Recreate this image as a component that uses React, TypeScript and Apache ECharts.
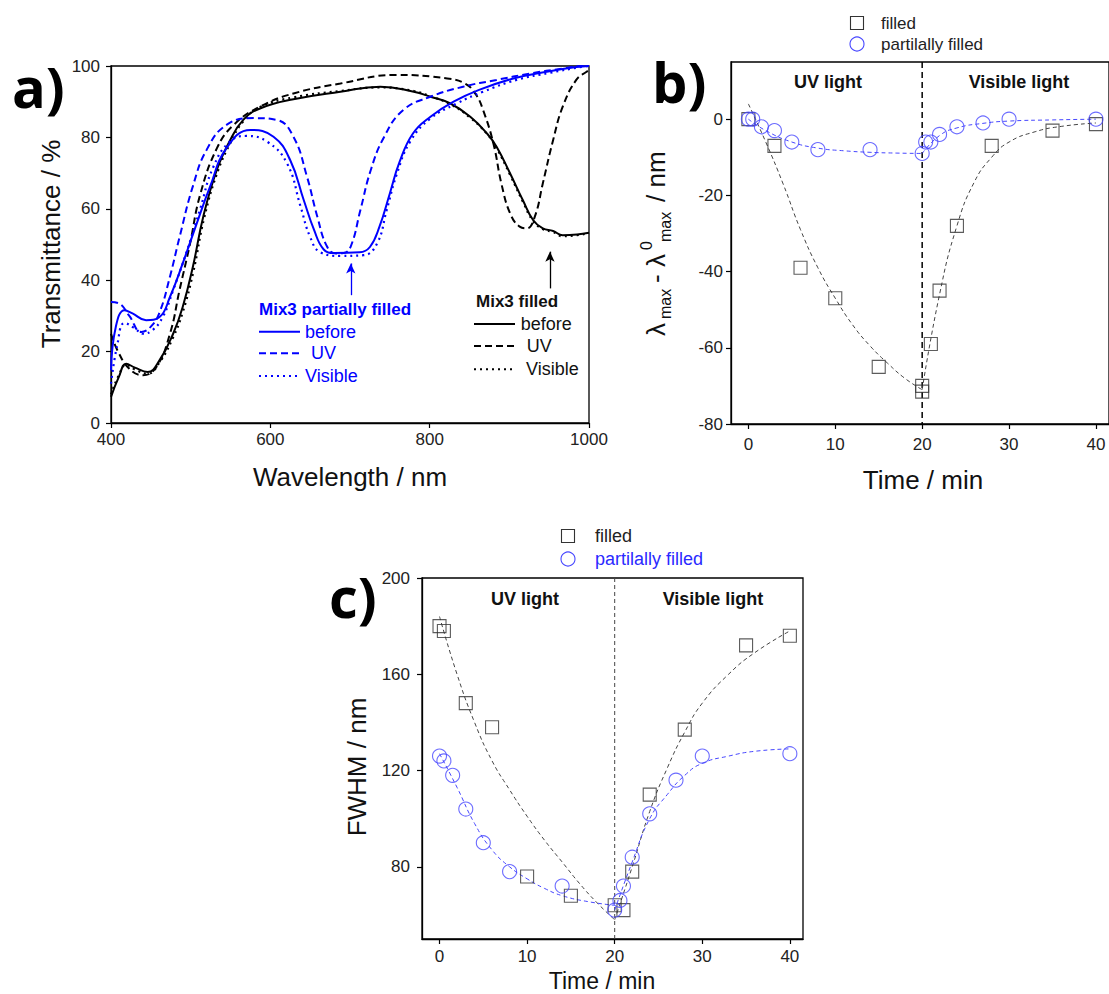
import React, { useEffect, useRef } from "react";
import * as echarts from "echarts";

// ---------- Panel a: transmittance spectra (wavelength nm, T %) ----------
const aFilledBefore: number[][] = [
  [400, 7.3], [410, 13], [419, 16.6], [430, 15.5], [446, 14.3], [461, 17.6], [478, 25], [490, 32.5],
  [503, 44], [516, 58], [533, 71], [549, 79], [566, 84.9], [587, 88.1], [629, 90.7], [688, 92.8],
  [738, 94.2], [780, 92.8], [801, 91.4], [826, 89.5], [851, 85.8], [872, 81.1], [884, 77.4], [901, 69.9],
  [917, 62.4], [930, 56.8], [942, 54.5], [955, 53.8], [967, 52.6], [985, 52.8], [1000, 53.3],
];
const aFilledUV: number[][] = [
  [400, 25], [408, 20.4], [423, 15.2], [440, 13.4], [457, 15.7], [474, 25], [486, 37.2], [499, 50],
  [512, 64], [533, 77], [554, 83.5], [587, 88.6], [629, 92.3], [688, 95.1], [758, 97.5], [822, 96.5],
  [845, 95], [858, 92], [867, 87.7], [880, 78.3], [890, 67.1], [901, 58.7], [913, 55], [922, 54.5], [932, 57.8],
  [942, 67.1], [955, 79.3], [967, 88.6], [984, 96.1], [997, 98.4], [1000, 98.8],
];
const aFilledVisible: number[][] = [
  [400, 8], [410, 13.5], [419, 16.3], [430, 15], [446, 13.8], [461, 17], [478, 24], [490, 31],
  [503, 42], [517, 57.5], [534, 70.5], [550, 78.5], [566, 84.5], [587, 88.5], [629, 91.2], [688, 93],
  [738, 94], [780, 93], [801, 91.5], [826, 89.3], [851, 85.5], [872, 81], [884, 77], [901, 69.5],
  [917, 62], [930, 56.5], [942, 54.3], [955, 53.5], [967, 52.3], [985, 52.6], [1000, 53.2],
];
const aPartialBefore: number[][] = [
  [400, 14.8], [406, 26.9], [417, 31.6], [427, 30.7], [444, 28.8], [461, 29.7], [474, 35.3], [490, 44.7],
  [507, 55.5], [524, 66], [545, 77], [575, 82.1], [604, 80.2], [625, 73.6], [642, 62.4], [655, 54],
  [667, 48.6], [680, 47.6], [712, 47.8], [725, 49.3], [737, 55], [750, 64.3], [762, 73], [779, 81.1],
  [801, 85.8], [830, 90], [862, 93.3], [905, 96.5], [947, 98.4], [984, 99.7], [1000, 100],
];
const aPartialUV: number[][] = [
  [400, 33.9], [410, 33.5], [423, 30], [438, 25.5], [450, 27], [461, 31], [474, 41], [486, 52],
  [503, 66.5], [520, 76.5], [545, 83.5], [579, 85.4], [608, 84.9], [629, 80.2], [646, 69], [659, 57.8],
  [671, 49.5], [682, 47.5], [692, 47.6], [701, 49.5], [713, 59.6], [726, 70.8], [743, 80.2], [767, 87.7],
  [801, 91.4], [842, 94.2], [884, 96.1], [926, 97.9], [967, 99.3], [992, 100], [1000, 100],
];
const aPartialVisible: number[][] = [
  [400, 11], [408, 22], [417, 28], [430, 26.5], [440, 25], [452, 26], [465, 29.7], [478, 37.2],
  [495, 48], [512, 60], [528, 71.5], [549, 78.8], [570, 80.4], [596, 78.8], [621, 72.7], [638, 60.6],
  [650, 52.1], [663, 47.8], [688, 46.8], [717, 47], [734, 50.3], [746, 59.6], [759, 69.9], [776, 79],
  [801, 85.3], [834, 89.5], [867, 92.8], [909, 96.1], [951, 98.1], [992, 99.8], [1000, 100],
];
// annotation arrows [x, yFrom, yTo]
const arrowPartial = [701, 35.8, 44.7];
const arrowFilled = [951, 37.7, 48];

// ---------- Panel b: lambda shift vs time ----------
const bFilledTime = [0, 3, 6, 10, 15, 20, 20, 21, 22, 24, 28, 35, 40];
const bFilledShift = [0, -7, -39, -47, -65, -70, -71.5, -59, -45, -28, -7, -3, -1.3];
const bPartialTime = [0, 0.5, 1.5, 3, 5, 8, 14, 20, 20.4, 21, 22, 24, 27, 30, 40];
const bPartialShift = [0, 0, -2, -3, -6, -8, -8, -9, -6, -6, -4, -2, -1, 0, 0];
const bFitFilledUVTime = [0, 2, 4, 6, 8, 10, 12, 14, 16, 18, 20];
const bFitFilledUV = [4, -6, -17, -29, -39, -47, -54, -59.5, -64, -68, -71];
const bFitFilledVisTime = [20, 22, 24, 26, 28, 30, 33, 36, 40];
const bFitFilledVis = [-71, -46, -28, -16.5, -10, -6, -3.3, -1.9, -1];
const bFitPartialUVTime = [0, 2, 5, 8, 11, 14, 17, 20];
const bFitPartialUV = [0, -3, -6, -7.6, -8.3, -8.7, -8.9, -9];
const bFitPartialVisTime = [20, 22, 24, 27, 30, 35, 40];
const bFitPartialVis = [-9, -4.3, -2.3, -1.1, -0.5, -0.2, 0];

// ---------- Panel c: FWHM vs time ----------
const cFilledTime = [0, 0.5, 3, 6, 10, 15, 20, 21, 22, 24, 28, 35, 40];
const cFilledFwhm = [180, 178, 148, 138, 76, 68, 64, 62, 78, 110, 137, 172, 176];
const cPartialTime = [0, 0.5, 1.5, 3, 5, 8, 14, 20, 20.6, 21, 22, 24, 27, 30, 40];
const cPartialFwhm = [126, 124, 118, 104, 90, 78, 72, 62, 66, 72, 84, 102, 116, 126, 127];
const cFitFilledUVTime = [0, 2, 4, 6, 8, 10, 12, 14, 16, 18, 20];
const cFitFilledUV = [184, 160, 140, 124, 112, 101, 91, 82, 73, 65, 58];
const cFitFilledVisTime = [20, 22, 24, 26, 28, 30, 33, 36, 40];
const cFitFilledVis = [58, 80, 103, 121, 136, 148, 160, 169, 178];
const cFitPartialUVTime = [0, 2, 4, 6, 8, 10, 12, 14, 17, 20];
const cFitPartialUV = [127, 113, 98, 87, 80, 75, 71, 68, 65.5, 64];
const cFitPartialVisTime = [20, 22, 24, 26, 28, 30, 33, 36, 40];
const cFitPartialVis = [62, 82, 100, 110, 118, 123, 126, 128, 129];

// tick values
const aXTicks = [400, 600, 800, 1000];
const aYTicks = [0, 20, 40, 60, 80, 100];
const timeTicks = [0, 10, 20, 30, 40];
const bYTicks = [-80, -60, -40, -20, 0];
const cYTicks = [80, 120, 160, 200];

const zip = (xs: number[], ys: number[]) => xs.map((x, i) => [x, ys[i]]);

const FONT = "'Liberation Sans', Arial, sans-serif";
const BLUE = "#0000ff";
const MBLUE = "#4646ff";

function axisCommon(custom: number[], margin: number) {
  return {
    axisLine: { show: true, onZero: false, lineStyle: { color: "#000", width: 1.3 } },
    axisTick: { show: true, inside: false, length: 5, customValues: custom, lineStyle: { color: "#000", width: 1.2 } },
    axisLabel: {
      customValues: custom, margin, fontSize: 17, color: "#222", fontFamily: FONT,
      formatter: (v: number) => String(v),
    },
    splitLine: { show: false },
  };
}

function spec(name: string, data: number[][], color: string, type: any, width = 2) {
  return {
    name, type: "line", xAxisIndex: 0, yAxisIndex: 0, data, showSymbol: false, symbol: "none",
    smooth: 0.45,
    lineStyle: { color, width, type, cap: "butt" }, silent: true,
  };
}

function fit(idx: number, data: number[][], color: string) {
  return {
    type: "line", xAxisIndex: idx, yAxisIndex: idx, data, showSymbol: false, symbol: "none",
    smooth: 0.5, silent: true,
    lineStyle: { color, width: 1, type: [4, 3] }, z: 3,
  };
}

function squares(idx: number, data: number[][]) {
  return {
    type: "scatter", xAxisIndex: idx, yAxisIndex: idx, data, symbol: "rect", symbolSize: 13,
    itemStyle: { color: "rgba(255,255,255,0)", borderColor: "#333", borderWidth: 1.1 }, z: 4, silent: true,
  };
}
function circles(idx: number, data: number[][]) {
  return {
    type: "scatter", xAxisIndex: idx, yAxisIndex: idx, data, symbol: "circle", symbolSize: 14,
    itemStyle: { color: "rgba(255,255,255,0)", borderColor: MBLUE, borderWidth: 1.1 }, z: 4, silent: true,
  };
}

function arrowLine(a: number[], color: string) {
  return {
    silent: true, symbol: ["none", "arrow"], symbolSize: [7, 10], label: { show: false },
    lineStyle: { color, width: 1.3, type: "solid" },
    data: [[{ coord: [a[0], a[1]] }, { coord: [a[0], a[2]] }]],
  };
}

function txt(text: string, x: number, y: number, size: number, opts: any = {}) {
  return {
    type: "text", x, y, z: 100, silent: true,
    style: {
      text, fontSize: size, fontFamily: opts.family || FONT, fontWeight: opts.weight || "normal",
      fill: opts.fill || "#111", align: opts.align || "left", verticalAlign: "middle",
    },
    rotation: opts.rotation || 0,
  };
}

function legLine(x1: number, x2: number, y: number, color: string, dash: any) {
  return {
    type: "line", z: 100, silent: true, shape: { x1, y1: y, x2, y2: y },
    style: { stroke: color, lineWidth: 2, lineDash: dash },
  };
}

export default function App() {
  const ref = useRef<HTMLDivElement>(null);
  useEffect(() => {
    const chart = echarts.init(ref.current!, null, { renderer: "svg" });
    const option: any = {
      animation: false,
      backgroundColor: "#fff",
      grid: [
        { left: 111, top: 66, width: 478, height: 357, show: true, borderColor: "#000", borderWidth: 1.3, backgroundColor: "transparent" },
        { left: 731, top: 62, width: 380, height: 362, show: true, borderColor: "#000", borderWidth: 1.3, backgroundColor: "transparent" },
        { left: 422, top: 578, width: 381, height: 361, show: true, borderColor: "#000", borderWidth: 1.3, backgroundColor: "transparent" },
      ],
      xAxis: [
        { type: "value", gridIndex: 0, min: 400, max: 1000, ...axisCommon(aXTicks, 8) },
        { type: "value", gridIndex: 1, min: -2, max: 41.5, ...axisCommon(timeTicks, 12) },
        { type: "value", gridIndex: 2, min: -2, max: 41.5, ...axisCommon(timeTicks, 9) },
      ],
      yAxis: [
        { type: "value", gridIndex: 0, min: 0, max: 100, ...axisCommon(aYTicks, 11) },
        { type: "value", gridIndex: 1, min: -80, max: 15, ...axisCommon(bYTicks, 8) },
        { type: "value", gridIndex: 2, min: 50, max: 200, ...axisCommon(cYTicks, 12) },
      ],
      series: [
        spec("filled before", aFilledBefore, "#000", "solid"),
        spec("filled UV", aFilledUV, "#000", [7, 4]),
        spec("filled Visible", aFilledVisible, "#000", [2, 4], 2.2),
        spec("partial before", aPartialBefore, BLUE, "solid"),
        spec("partial UV", aPartialUV, BLUE, [7, 4]),
        spec("partial Visible", aPartialVisible, BLUE, [2, 4], 2.2),
        {
          type: "line", xAxisIndex: 0, yAxisIndex: 0, data: [], silent: true,
          markLine: arrowLine(arrowPartial, BLUE),
        },
        {
          type: "line", xAxisIndex: 0, yAxisIndex: 0, data: [], silent: true,
          markLine: arrowLine(arrowFilled, "#000"),
        },
        // panel b
        {
          type: "line", xAxisIndex: 1, yAxisIndex: 1, data: [[20, 15], [20, -80]], showSymbol: false, symbol: "none",
          silent: true, lineStyle: { color: "#000", width: 1.5, type: [6, 4] }, z: 2,
        },
        fit(1, zip(bFitFilledUVTime, bFitFilledUV), "#444"),
        fit(1, zip(bFitFilledVisTime, bFitFilledVis), "#444"),
        fit(1, zip(bFitPartialUVTime, bFitPartialUV), MBLUE),
        fit(1, zip(bFitPartialVisTime, bFitPartialVis), MBLUE),
        squares(1, zip(bFilledTime, bFilledShift)),
        circles(1, zip(bPartialTime, bPartialShift)),
        // panel c
        {
          type: "line", xAxisIndex: 2, yAxisIndex: 2, data: [[20, 200], [20, 50]], showSymbol: false, symbol: "none",
          silent: true, lineStyle: { color: "#444", width: 1, type: [4, 3] }, z: 2,
        },
        fit(2, zip(cFitFilledUVTime, cFitFilledUV), "#444"),
        fit(2, zip(cFitFilledVisTime, cFitFilledVis), "#444"),
        fit(2, zip(cFitPartialUVTime, cFitPartialUV), MBLUE),
        fit(2, zip(cFitPartialVisTime, cFitPartialVis), MBLUE),
        squares(2, zip(cFilledTime, cFilledFwhm)),
        circles(2, zip(cPartialTime, cPartialFwhm)),
      ],
      graphic: [
        // panel labels
        txt("a)", 12, 86, 56, { weight: "bold", family: "'Open Sans', sans-serif", fill: "#000" }),
        txt("b)", 652, 81, 56, { weight: "bold", family: "'Open Sans', sans-serif", fill: "#000" }),
        txt("c)", 329, 596, 56, { weight: "bold", family: "'Open Sans', sans-serif", fill: "#000" }),
        // axis titles panel a
        txt("Wavelength / nm", 350, 477, 26, { align: "center" }),
        txt("Transmittance / %", 51, 244, 26, { align: "center", rotation: Math.PI / 2 }),
        // panel a legends
        txt("Mix3 partially filled", 259, 309, 17, { weight: "bold", fill: BLUE }),
        legLine(259, 300, 331.7, BLUE, null),
        legLine(259, 300, 353.3, BLUE, [7, 4]),
        legLine(259, 300, 376, BLUE, [2, 4]),
        txt("before", 305, 331.7, 18, { fill: BLUE }),
        txt("UV", 311, 353.3, 18, { fill: BLUE }),
        txt("Visible", 305, 376, 18, { fill: BLUE }),
        txt("Mix3 filled", 476, 301.7, 17, { weight: "bold" }),
        legLine(474, 515, 324, "#000", null),
        legLine(474, 515, 346, "#000", [7, 4]),
        legLine(474, 515, 369.3, "#000", [2, 4]),
        txt("before", 520.7, 324, 18),
        txt("UV", 526.7, 346, 18),
        txt("Visible", 526, 369.3, 18),
        // panel b legend
        { type: "rect", z: 100, silent: true, shape: { x: 850.5, y: 16.5, width: 13, height: 13 }, style: { fill: "none", stroke: "#333", lineWidth: 1.1 } },
        txt("filled", 881, 23, 17, { fill: "#222" }),
        { type: "circle", z: 100, silent: true, shape: { cx: 857, cy: 44, r: 7 }, style: { fill: "none", stroke: MBLUE, lineWidth: 1.1 } },
        txt("partilally filled", 881, 44, 17, { fill: "#222" }),
        txt("UV light", 828, 82, 18, { weight: "bold", align: "center" }),
        txt("Visible light", 1019, 82, 18, { weight: "bold", align: "center" }),
        txt("Time / min", 923, 480, 26, { align: "center" }),
        {
          type: "group", x: 656, y: 336, rotation: Math.PI / 2, z: 100, silent: true,
          children: [
            { type: "text", x: 0, y: 0, style: { text: "λ", fontSize: 26, fontFamily: FONT, fill: "#111", verticalAlign: "middle" } },
            { type: "text", x: 17, y: 9, style: { text: "max", fontSize: 16, fontFamily: FONT, fill: "#111", verticalAlign: "middle" } },
            { type: "text", x: 53, y: 0, style: { text: "-", fontSize: 26, fontFamily: FONT, fill: "#111", verticalAlign: "middle" } },
            { type: "text", x: 69, y: 0, style: { text: "λ", fontSize: 26, fontFamily: FONT, fill: "#111", verticalAlign: "middle" } },
            { type: "text", x: 86, y: -10, style: { text: "0", fontSize: 16, fontFamily: FONT, fill: "#111", verticalAlign: "middle" } },
            { type: "text", x: 94, y: 9, style: { text: "max", fontSize: 16, fontFamily: FONT, fill: "#111", verticalAlign: "middle" } },
            { type: "text", x: 134, y: 0, style: { text: "/ nm", fontSize: 26, fontFamily: FONT, fill: "#111", verticalAlign: "middle" } },
          ],
        },
        // panel c
        { type: "rect", z: 100, silent: true, shape: { x: 561.5, y: 529.5, width: 13, height: 13 }, style: { fill: "none", stroke: "#333", lineWidth: 1.1 } },
        txt("filled", 595, 536, 18, { fill: "#222" }),
        { type: "circle", z: 100, silent: true, shape: { cx: 568, cy: 559, r: 7 }, style: { fill: "none", stroke: MBLUE, lineWidth: 1.1 } },
        txt("partilally filled", 595, 559, 18, { fill: "#2a2aff" }),
        txt("UV light", 525, 599, 18, { weight: "bold", align: "center" }),
        txt("Visible light", 713, 599, 18, { weight: "bold", align: "center" }),
        txt("Time / min", 602, 981, 23, { align: "center" }),
        txt("FWHM / nm", 357, 767, 26, { align: "center", rotation: Math.PI / 2 }),
      ],
    };
    chart.setOption(option);
    return () => chart.dispose();
  }, []);
  return (
    <div
      ref={ref}
      style={{ position: "fixed", left: 0, top: 0, width: 1109, height: 994, background: "#fff" }}
    />
  );
}
